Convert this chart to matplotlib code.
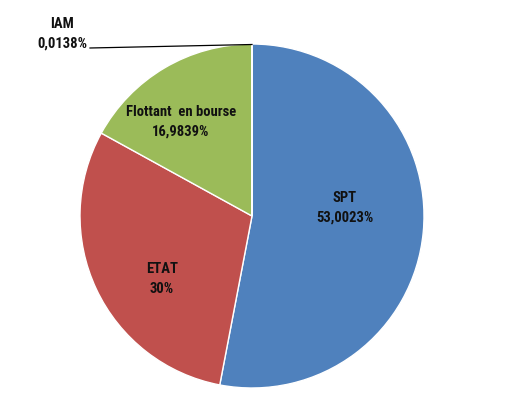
import matplotlib
matplotlib.use('Agg')
import matplotlib.pyplot as plt

# Shareholders data
labels = ['SPT', 'ETAT', 'Flottant  en bourse', 'IAM']
values = [53.0023, 30.0, 16.9839, 0.0138]
value_text = ['53,0023%', '30%', '16,9839%', '0,0138%']
colors = ['#4F81BD', '#C0504D', '#9BBB59', '#8064A2']

plt.rcParams['font.family'] = ['Roboto Condensed', 'DejaVu Sans']

fig = plt.figure(figsize=(5.10, 4.01), dpi=100)
ax = fig.add_axes([0, 0, 1, 1])

wedges, _ = ax.pie(values, colors=colors, startangle=90, counterclock=False,
                   center=(252, 185), radius=172,
                   wedgeprops=dict(edgecolor='white', linewidth=1))
ax.set_xlim(0, 510)
ax.set_ylim(0, 401)
ax.set_aspect('equal')
ax.axis('off')

# labels inside slices
pos = [(345, 193), (162, 122), (181, 279)]
for i in range(3):
    ax.text(pos[i][0], pos[i][1], labels[i] + '\n' + value_text[i], ha='center', va='center',
            fontsize=10.5, fontweight='bold', linespacing=1.5, color='#111111')

# the tiny IAM slice gets an outside label with a leader line
ax.plot([90, 252], [353, 356.5], color='black', linewidth=0.9)
ax.text(62, 367, labels[3] + '\n' + value_text[3], ha='center', va='center',
        fontsize=10.5, fontweight='bold', linespacing=1.5, color='#111111')

fig.savefig('out.png', dpi=100)
